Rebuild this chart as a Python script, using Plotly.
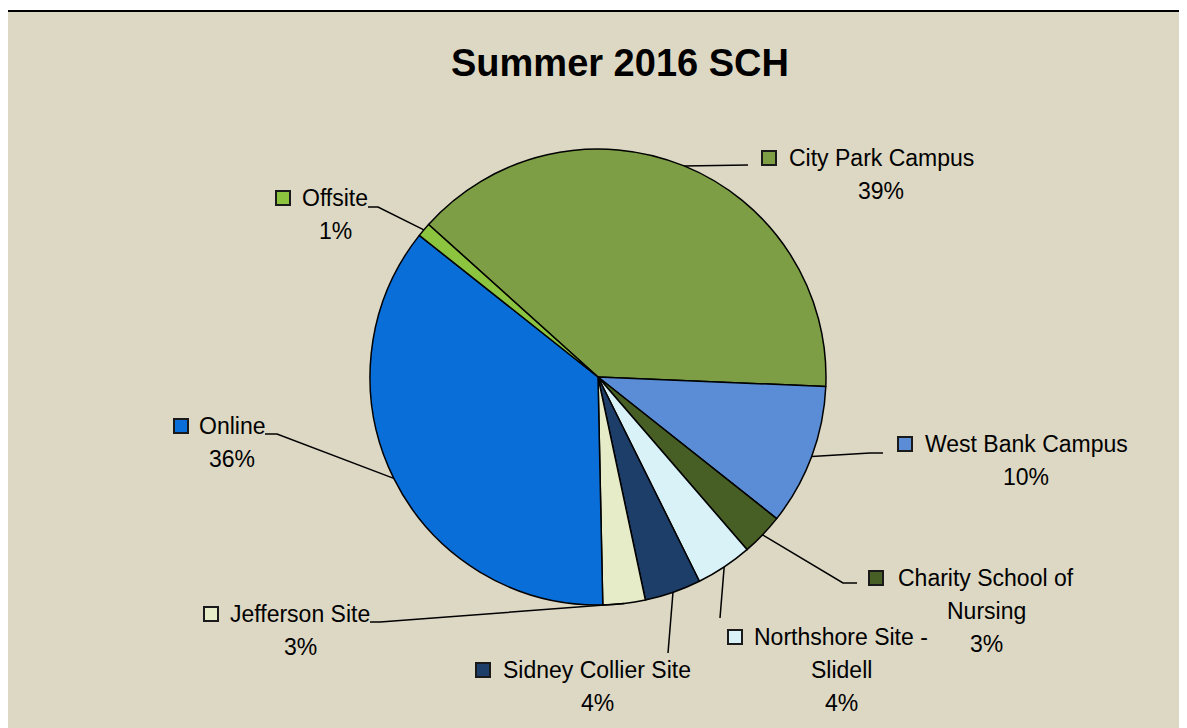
import math

import plotly.graph_objects as go

W, H = 1187, 728
PAGE_MARGIN = 8  # browser body margin around the figure

# data
CAMPUSES = [
    'City Park Campus',
    'West Bank Campus',
    'Charity School of Nursing',
    'Northshore Site - Slidell',
    'Sidney Collier Site',
    'Jefferson Site',
    'Online',
    'Offsite',
]
SCH_SHARE = [39, 10, 3, 4, 4, 3, 36, 1]
COLORS = ['#7E9E45', '#5A8DD6', '#475F24', '#D8F2F8', '#1E3E6A', '#E6EBC8', '#0A6ED8', '#8DC43F']

# label layout (screen pixels): wrapped lines, text centre x, first line y, key square x, leader bend points
LABEL_LINES = {
    'City Park Campus': ['City Park Campus'],
    'West Bank Campus': ['West Bank Campus'],
    'Charity School of Nursing': ['Charity School of', 'Nursing'],
    'Northshore Site - Slidell': ['Northshore Site -', 'Slidell'],
    'Sidney Collier Site': ['Sidney Collier Site'],
    'Jefferson Site': ['Jefferson Site'],
    'Online': ['Online'],
    'Offsite': ['Offsite'],
}
LABEL_POS = {
    'City Park Campus': (881, 158, 769, [(748, 165)]),
    'West Bank Campus': (1026, 444, 905, [(870, 453), (883, 453)]),
    'Charity School of Nursing': (986, 578, 876, [(843, 583), (857, 583)]),
    'Northshore Site - Slidell': (841, 637, 735, [(720, 618)]),
    'Sidney Collier Site': (597, 670, 483, [(668, 653)]),
    'Jefferson Site': (300, 614, 211, [(380, 622), (370, 622)]),
    'Online': (232, 426, 181, [(277, 434), (265, 434)]),
    'Offsite': (335, 198, 283, [(378, 207), (368, 207)]),
}

CX, CY, R = 598, 377, 228
ROTATION = -48
LINE_GAP = 33
FONT = 'Liberation Sans, Arial, sans-serif'


def px(x):
    return (x - PAGE_MARGIN) / W


def py(y):
    return 1 - (y - PAGE_MARGIN) / H


def slice_midpoints(values):
    total = sum(values)
    angle = ROTATION
    points = []
    for v in values:
        span = 360 * v / total
        mid = math.radians(angle + span / 2)
        points.append((CX + R * math.sin(mid), CY - R * math.cos(mid)))
        angle += span
    return points


def build_figure():
    total = sum(SCH_SHARE)
    fig = go.Figure(
        go.Pie(
            labels=CAMPUSES,
            values=SCH_SHARE,
            sort=False,
            direction='clockwise',
            rotation=ROTATION,
            marker=dict(colors=COLORS, line=dict(color='black', width=1.5)),
            textinfo='none',
            hoverinfo='label+percent',
            domain=dict(x=[px(CX - R), px(CX + R)], y=[py(CY + R), py(CY - R)]),
            showlegend=False,
        )
    )

    shapes = [
        dict(type='rect', xref='paper', yref='paper', x0=px(7), y0=-0.02, x1=1.02, y1=py(11),
             fillcolor='#DDD8C4', line=dict(color='black', width=2), layer='below'),
    ]
    annotations = []

    for name, color, share, edge in zip(CAMPUSES, COLORS, SCH_SHARE, slice_midpoints(SCH_SHARE)):
        tx, ty, sx, bends = LABEL_POS[name]
        lines = LABEL_LINES[name] + [f'{round(100 * share / total)}%']

        pts = [edge] + bends
        path = 'M ' + ' L '.join(f'{px(x)},{py(y)}' for x, y in pts)
        shapes.append(dict(type='path', xref='paper', yref='paper', path=path,
                           line=dict(color='black', width=1.5)))

        shapes.append(dict(type='rect', xref='paper', yref='paper',
                           x0=px(sx - 7), x1=px(sx + 7), y0=py(ty + 7), y1=py(ty - 7),
                           fillcolor=color, line=dict(color='#1a1a1a', width=2)))

        for i, line in enumerate(lines):
            annotations.append(dict(
                x=px(tx), y=py(ty + i * LINE_GAP), xref='paper', yref='paper',
                text=line, showarrow=False, xanchor='center', yanchor='middle',
                font=dict(family=FONT, size=23, color='black'),
            ))

    annotations.append(dict(
        x=px(620), y=py(63), xref='paper', yref='paper', text='<b>Summer 2016 SCH</b>',
        showarrow=False, xanchor='center', yanchor='middle',
        font=dict(family=FONT, size=38, color='black'),
    ))

    fig.update_layout(
        width=W,
        height=H,
        margin=dict(l=0, r=0, t=0, b=0),
        paper_bgcolor='white',
        plot_bgcolor='white',
        shapes=shapes,
        annotations=annotations,
    )
    return fig


def main():
    fig = build_figure()
    fig.write_html('out.html')


if __name__ == '__main__':
    main()
